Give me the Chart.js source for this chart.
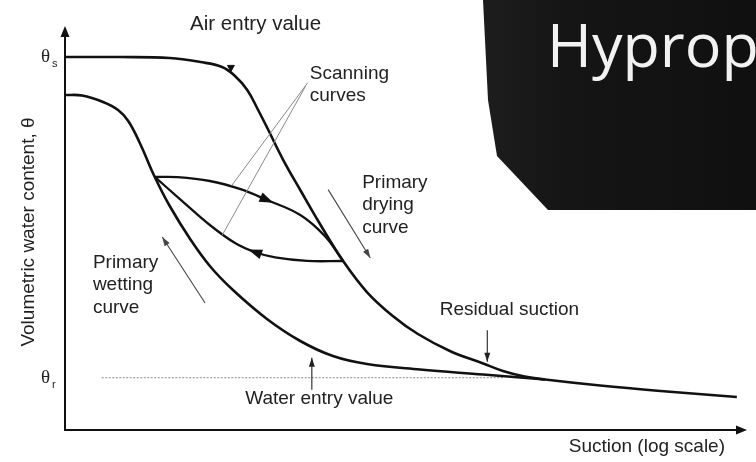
<!DOCTYPE html>
<html>
<head>
<meta charset="utf-8">
<title>Soil water retention curve</title>
<script src="https://cdn.jsdelivr.net/npm/chart.js"></script>
<style>
  html, body { margin: 0; padding: 0; background: #fff; }
  #wrap { width: 756px; height: 462px; }
</style>
</head>
<body>
<div id="wrap"><canvas id="retention" width="756" height="462"></canvas></div>
<script>
// suction is plotted as log suction (0..10), water content in % by volume
const thetaS = 46.4;
const thetaR = 6.5;

const dryingSuction = [0, 0.81, 1.54, 1.99, 2.31, 2.50, 2.68, 2.84, 2.99, 3.21, 3.46, 3.75, 4.09, 4.44, 4.82, 5.19, 5.66, 6.15, 6.44, 6.76, 7.06, 7.87, 8.85, 9.88];
const dryingTheta   = [46.39, 46.39, 46.27, 45.77, 45.15, 44.03, 42.29, 39.80, 37.31, 33.58, 29.85, 25.62, 21.02, 17.16, 14.18, 11.94, 9.83, 8.27, 7.34, 6.65, 6.28, 5.53, 4.79, 4.10];

const wettingSuction = [0, 0.25, 0.56, 0.78, 0.93, 1.10, 1.32, 1.54, 1.84, 2.13, 2.47, 2.97, 3.46, 3.94, 4.44, 5.22, 6.15, 7.06];
const wettingTheta   = [41.67, 41.60, 40.80, 39.80, 38.43, 35.70, 31.47, 27.86, 23.76, 20.40, 17.41, 13.81, 11.07, 9.20, 8.21, 7.52, 6.90, 6.28];

// scanning loop between the two primary curves
const scanDrySuction = [1.32, 1.65, 2.13, 2.57, 2.97, 3.46, 3.82, 4.09];
const scanDryTheta   = [31.47, 31.45, 30.97, 29.98, 28.61, 26.74, 24.13, 21.02];
const scanWetSuction = [1.32, 1.69, 2.13, 2.50, 2.79, 3.09, 3.56, 4.09];
const scanWetTheta   = [31.47, 28.73, 25.50, 23.26, 22.14, 21.46, 21.03, 21.02];

const residualSuction = [0.54, 6.45];
const airEntry = { x: 2.44, y: 45.1 };

function pts(xs, ys) {
  return xs.map((x, i) => ({ x: x, y: ys[i] }));
}

function head(ctx, x0, y0, x1, y1, len, half) {
  const ang = Math.atan2(y1 - y0, x1 - x0);
  ctx.save();
  ctx.translate(x1, y1);
  ctx.rotate(ang);
  ctx.beginPath();
  ctx.moveTo(0, 0);
  ctx.lineTo(-len, -half);
  ctx.lineTo(-len, half);
  ctx.closePath();
  ctx.fill();
  ctx.restore();
}

const FONT = '19px "Liberation Sans", Arial, sans-serif';

const diagram = {
  id: 'diagram',
  afterDatasetsDraw(chart) {
    const { ctx, chartArea: a, scales } = chart;
    const X = v => scales.x.getPixelForValue(v);
    const Y = v => scales.y.getPixelForValue(v);
    ctx.save();

    // axes with arrow heads
    ctx.strokeStyle = '#111';
    ctx.fillStyle = '#111';
    ctx.lineWidth = 2;
    ctx.beginPath();
    ctx.moveTo(a.left, a.top + 4);
    ctx.lineTo(a.left, a.bottom);
    ctx.lineTo(a.right - 4, a.bottom);
    ctx.stroke();
    head(ctx, a.left, a.bottom, a.left, a.top - 2, 11, 4.5);
    head(ctx, a.left, a.bottom, a.right + 2, a.bottom, 11, 4.5);

    // direction arrows on the scanning curves
    const arrowOn = (dsIndex, i, forward) => {
      const pts = chart.getDatasetMeta(dsIndex).data;
      const p = pts[i], a0 = pts[forward ? i - 1 : i + 1], a1 = pts[forward ? i + 1 : i - 1];
      const dx = a1.x - a0.x, dy = a1.y - a0.y, d = Math.hypot(dx, dy);
      head(ctx, p.x - dx / d * 7, p.y - dy / d * 7, p.x + dx / d * 7, p.y + dy / d * 7, 14, 5);
    };
    arrowOn(2, 4, true);
    arrowOn(3, 4, false);

    // thin pointer arrows
    const pointers = [
      [3.87, 29.9, 4.49, 21.4, '#444'],
      [2.06, 15.8, 1.43, 24.0, '#444'],
      [6.21, 12.4, 6.21, 8.5, '#222'],
      [3.63, 5.0, 3.63, 9.0, '#222']
    ];
    ctx.lineWidth = 1.1;
    pointers.forEach(p => {
      ctx.strokeStyle = p[4];
      ctx.fillStyle = p[4];
      ctx.beginPath();
      ctx.moveTo(X(p[0]), Y(p[1]));
      ctx.lineTo(X(p[2]), Y(p[3]));
      ctx.stroke();
      head(ctx, X(p[0]), Y(p[1]), X(p[2]), Y(p[3]), 9, 3);
    });

    // leader lines for the scanning curves label
    ctx.strokeStyle = '#8a8a8a';
    ctx.lineWidth = 1;
    [[3.57, 43.2, 2.45, 30.4], [3.54, 42.8, 2.31, 24.2]].forEach(l => {
      ctx.beginPath();
      ctx.moveTo(X(l[0]), Y(l[1]));
      ctx.lineTo(X(l[2]), Y(l[3]));
      ctx.stroke();
    });

    // annotations
    ctx.fillStyle = '#222';
    ctx.textAlign = 'left';
    ctx.textBaseline = 'alphabetic';
    ctx.font = '20.5px "Liberation Sans", Arial, sans-serif';
    ctx.fillText('Air entry value', X(1.84), Y(49.75));
    ctx.font = FONT;
    const notes = [
      [3.60, 43.66, ['Scanning', 'curves']],
      [4.37, 30.1, ['Primary', 'drying', 'curve']],
      [0.41, 20.15, ['Primary', 'wetting', 'curve']],
      [5.51, 14.3, ['Residual suction']],
      [2.65, 3.23, ['Water entry value']]
    ];
    notes.forEach(n => {
      n[2].forEach((t, k) => ctx.fillText(t, X(n[0]), Y(n[1]) + k * 22.5));
    });

    // axis titles
    ctx.textAlign = 'right';
    ctx.fillText('Suction (log scale)', a.right - 20, a.bottom + 22);
    ctx.save();
    ctx.translate(34, 232);
    ctx.rotate(-Math.PI / 2);
    ctx.textAlign = 'center';
    ctx.fillText('Volumetric water content, \u03b8', 0, 0);
    ctx.restore();

    // theta_s and theta_r marks on the water content axis
    const thetaLabel = (v, sub) => {
      ctx.textAlign = 'left';
      ctx.textBaseline = 'middle';
      ctx.font = '19px "Liberation Serif", "Times New Roman", serif';
      ctx.fillText('\u03b8', 41, Y(v));
      ctx.font = '11px "Liberation Sans", Arial, sans-serif';
      ctx.fillText(sub, 52, Y(v) + 7);
    };
    thetaLabel(thetaS, 's');
    thetaLabel(thetaR, 'r');

    ctx.restore();
  },
  afterDraw(chart) {
    // dark instrument panel in the upper right corner
    const ctx = chart.ctx;
    ctx.save();
    const g = ctx.createLinearGradient(483, 0, 756, 0);
    g.addColorStop(0, '#1d1d1d');
    g.addColorStop(0.3, '#151515');
    g.addColorStop(1, '#101010');
    ctx.fillStyle = g;
    ctx.beginPath();
    ctx.moveTo(483, 0);
    ctx.lineTo(756, 0);
    ctx.lineTo(756, 210);
    ctx.lineTo(548, 210);
    ctx.lineTo(497, 156);
    ctx.lineTo(488, 100);
    ctx.closePath();
    ctx.fill();
    ctx.fillStyle = '#f2f2f2';
    ctx.font = '61px "Open Sans", sans-serif';
    ctx.textBaseline = 'alphabetic';
    ctx.textAlign = 'left';
    ctx.fillText('Hyprop', 547, 67);
    ctx.restore();
  }
};

const curve = {
  borderColor: '#111',
  borderWidth: 2.6,
  pointRadius: 0,
  fill: false,
  tension: 0.4
};

new Chart(document.getElementById('retention'), {
  type: 'line',
  data: {
    datasets: [
      Object.assign({ label: 'Primary drying curve', data: pts(dryingSuction, dryingTheta) }, curve),
      Object.assign({ label: 'Primary wetting curve', data: pts(wettingSuction, wettingTheta) }, curve),
      Object.assign({ label: 'Scanning (drying)', data: pts(scanDrySuction, scanDryTheta) }, curve, { borderWidth: 2.3 }),
      Object.assign({ label: 'Scanning (wetting)', data: pts(scanWetSuction, scanWetTheta) }, curve, { borderWidth: 2.3 }),
      {
        label: 'Residual water content',
        data: pts(residualSuction, [thetaR, thetaR]),
        borderColor: '#8a8a8a',
        borderWidth: 1,
        borderDash: [2, 1.5],
        pointRadius: 0
      },
      {
        label: 'Air entry value',
        type: 'scatter',
        data: [airEntry],
        pointStyle: 'triangle',
        rotation: 180,
        radius: 4,
        backgroundColor: '#111',
        borderColor: '#111'
      }
    ]
  },
  options: {
    responsive: false,
    animation: false,
    layout: { padding: { left: 65, right: 11, top: 28, bottom: 32 } },
    scales: {
      x: { type: 'linear', min: 0, max: 10, display: false },
      y: { min: 0, max: 50, display: false }
    },
    plugins: {
      legend: { display: false },
      tooltip: { enabled: false }
    }
  },
  plugins: [diagram]
});
</script>
</body>
</html>
